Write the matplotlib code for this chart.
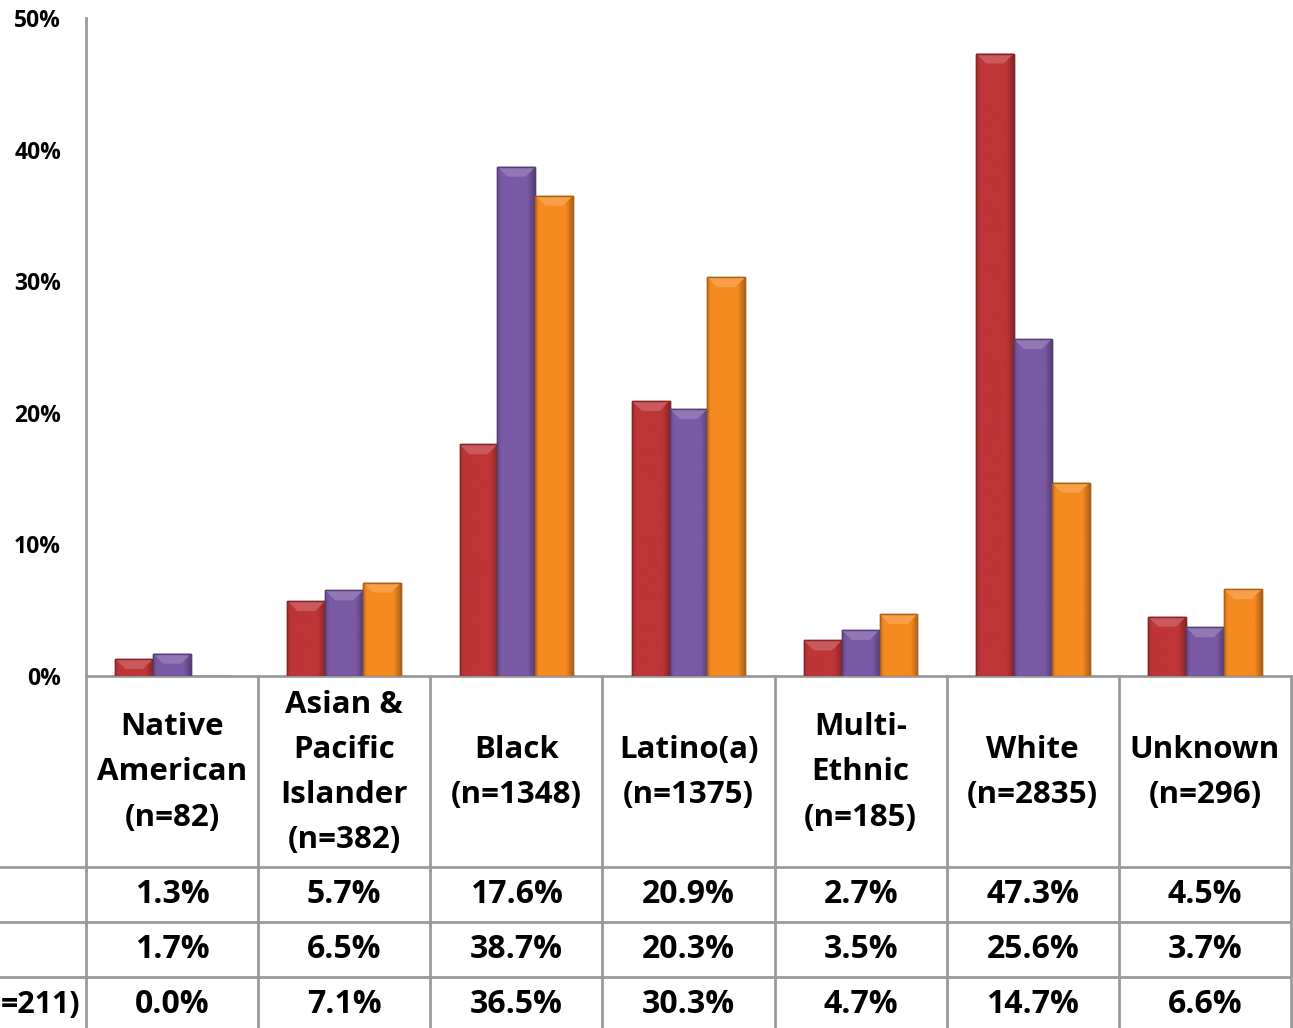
import numpy as np
import matplotlib
matplotlib.use('Agg')
import matplotlib.pyplot as plt
from matplotlib.transforms import blended_transform_factory
from matplotlib.lines import Line2D
from matplotlib.patches import Polygon
from matplotlib.colors import to_rgb

plt.rcParams['font.family'] = ['Open Sans', 'DejaVu Sans']
plt.rcParams['font.weight'] = 'bold'

# ------------------------------------------------------------------------
# Data
categories = ['Native\nAmerican\n(n=82)', 'Asian &\nPacific\nIslander\n(n=382)',
              'Black\n(n=1348)', 'Latino(a)\n(n=1375)', 'Multi-\nEthnic\n(n=185)',
              'White\n(n=2835)', 'Unknown\n(n=296)']
red_vals = [1.3, 5.7, 17.6, 20.9, 2.7, 47.3, 4.5]
purple_vals = [1.7, 6.5, 38.7, 20.3, 3.5, 25.6, 3.7]
orange_vals = [0.0, 7.1, 36.5, 30.3, 4.7, 14.7, 6.6]
row_labels = ['', '', '=211)']   # row headers are cut off at the left edge
y_ticks = [0, 10, 20, 30, 40, 50]
# ------------------------------------------------------------------------

series = [red_vals, purple_vals, orange_vals]
colors = ['#be3538', '#7a59a5', '#f58a21']

W, H = 1293, 1028
fig = plt.figure(figsize=(W / 100, H / 100), dpi=100)
fig.set_facecolor('white')

ax_top, ax_bot = 18, 676
ax = fig.add_axes([86 / W, 1 - ax_bot / H, (1291 - 86) / W, (ax_bot - ax_top) / H])

n = len(categories)
x = np.arange(n)
bw = 0.22
px_y = 50 / (ax_bot - ax_top)      # data units per pixel (y)
px_x = n / (1291 - 86)              # data units per pixel (x)


def shade(c, f):
    c = np.array(to_rgb(c))
    if f < 0:
        return c * (1 + f)
    return c + (1 - c) * f


for i, (vals, c) in enumerate(zip(series, colors)):
    bars = ax.bar(x + (i - 1) * bw + 0.5, vals, width=bw, color=c,
                  edgecolor=shade(c, -0.3), linewidth=1.0, zorder=3)
    # bevel look: horizontal gradient + light top cap
    prof = np.concatenate([np.linspace(-0.12, 0.0, 8), np.zeros(40), np.linspace(0.0, -0.28, 12)])
    grad = np.array([[shade(c, f) for f in prof]])
    for p in bars:
        x0, w, h = p.get_x(), p.get_width(), p.get_height()
        if h <= 0:
            continue
        im = ax.imshow(grad, extent=[x0, x0 + w, 0, h], aspect='auto', zorder=3.1,
                       interpolation='bilinear')
        im.set_clip_path(p)
        cap = min(10 * px_y, h)
        dx = 10 * px_x
        ax.add_patch(Polygon([(x0, h), (x0 + w, h), (x0 + w - dx, h - cap), (x0 + dx, h - cap)],
                             closed=True, facecolor=shade(c, 0.18), edgecolor='none', zorder=3.2))
        ax.add_patch(Polygon([(x0, h), (x0 + w, h), (x0 + w, 0), (x0, 0)], closed=True,
                             facecolor='none', edgecolor=shade(c, -0.3), lw=1.0, zorder=3.3))

ax.set_xlim(0, n)
ax.set_ylim(0, 50)
ax.set_yticks(y_ticks)
ax.set_yticklabels([f'{t}%' for t in y_ticks], fontsize=16.5, fontweight='bold')
ax.tick_params(axis='y', length=0, pad=18)
ax.set_xticks([])
for s in ['top', 'right']:
    ax.spines[s].set_visible(False)
ax.spines['left'].set_color('#9a9a9a')
ax.spines['left'].set_linewidth(2)
ax.spines['bottom'].set_color('#9a9a9a')
ax.spines['bottom'].set_linewidth(2)


def fy(py):
    return 1 - py / H


# Data table below the plot
tr = blended_transform_factory(ax.transData, fig.transFigure)
grid_col = '#9a9a9a'
row_tops = [867, 922, 977]
row_h = 55

for k in range(n + 1):
    fig.add_artist(Line2D([k, k], [fy(ax_bot), fy(H)], transform=tr, color=grid_col, lw=2))
for py in row_tops:
    fig.add_artist(Line2D([0, 1], [fy(py), fy(py)], transform=fig.transFigure, color=grid_col, lw=2))

for k, cat in enumerate(categories):
    ax.text(k + 0.5, fy((ax_bot + row_tops[0]) / 2 + 1), cat, transform=tr, ha='center', va='center',
            fontsize=22.5, fontweight='bold', linespacing=1.66, clip_on=False)
    for r, vals in enumerate(series):
        ax.text(k + 0.5, fy(row_tops[r] + row_h / 2), f'{vals[k]:.1f}%', transform=tr,
                ha='center', va='center', fontsize=23, fontweight='bold', clip_on=False)

for r, lab in enumerate(row_labels):
    fig.text(80 / W, fy(row_tops[r] + row_h / 2), lab, ha='right', va='center',
             fontsize=22, fontweight='bold')

plt.savefig('out.png', dpi=100)
